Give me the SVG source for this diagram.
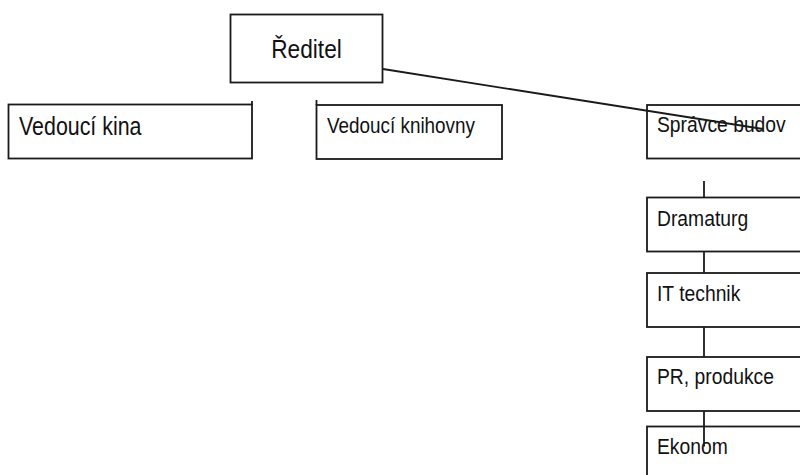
<svg xmlns="http://www.w3.org/2000/svg" width="800" height="475" viewBox="0 0 800 475">
<style>
.box{fill:#fff;stroke:#1a1a1a;stroke-width:1.8}
.lbl{font-family:"Liberation Sans",Arial,sans-serif;fill:#111;font-size:19.3px}
.con{stroke:#1a1a1a;stroke-width:1.8;fill:none}
</style>
<rect width="800" height="475" fill="#fff"/>
<g id="node-reditel">
<rect class="box" x="230.5" y="14.5" width="152" height="68"/>
<text class="lbl" transform="translate(306.5,58) scale(1,1.17)" text-anchor="middle" style="font-size:22.7px">Ředitel</text>
</g>
<g id="node-vedouci-kina">
<rect class="box" x="8.5" y="104.5" width="243.5" height="54"/>
<text class="lbl" transform="translate(19,135) scale(1,1.17)" style="font-size:21.4px">Vedoucí kina</text>
</g>
<g id="node-vedouci-knihovny">
<rect class="box" x="316.5" y="105" width="185.5" height="54"/>
<text class="lbl" transform="translate(327,133) scale(1,1.17)" style="font-size:18.9px">Vedoucí knihovny</text>
</g>
<g id="node-spravce-budov">
<rect class="box" x="647" y="105" width="160" height="53.5"/>
<text class="lbl" transform="translate(657,132) scale(1,1.17)">Správce budov</text>
</g>
<g id="node-dramaturg">
<rect class="box" x="647" y="197.5" width="160" height="54"/>
<text class="lbl" transform="translate(657,226) scale(1,1.17)">Dramaturg</text>
</g>
<g id="node-it-technik">
<rect class="box" x="647" y="273" width="160" height="54"/>
<text class="lbl" transform="translate(657,300.5) scale(1,1.17)">IT technik</text>
</g>
<g id="node-pr-produkce">
<rect class="box" x="647" y="357" width="160" height="54"/>
<text class="lbl" transform="translate(657,383.5) scale(1,1.17)">PR, produkce</text>
</g>
<g id="node-ekonom">
<rect class="box" x="647" y="426.5" width="160" height="60"/>
<text class="lbl" transform="translate(657,454) scale(1,1.17)">Ekonom</text>
</g>
<g id="connectors">
<line class="con" x1="383" y1="69" x2="763" y2="129"/>
<line class="con" x1="252" y1="101" x2="252" y2="105"/>
<line class="con" x1="316.5" y1="100" x2="316.5" y2="105"/>
<line class="con" x1="704" y1="181" x2="704" y2="197.5"/>
<line class="con" x1="704" y1="251.5" x2="704" y2="273"/>
<line class="con" x1="704" y1="327" x2="704" y2="357"/>
<line class="con" x1="704" y1="411" x2="704" y2="446.5"/>
</g>
</svg>
